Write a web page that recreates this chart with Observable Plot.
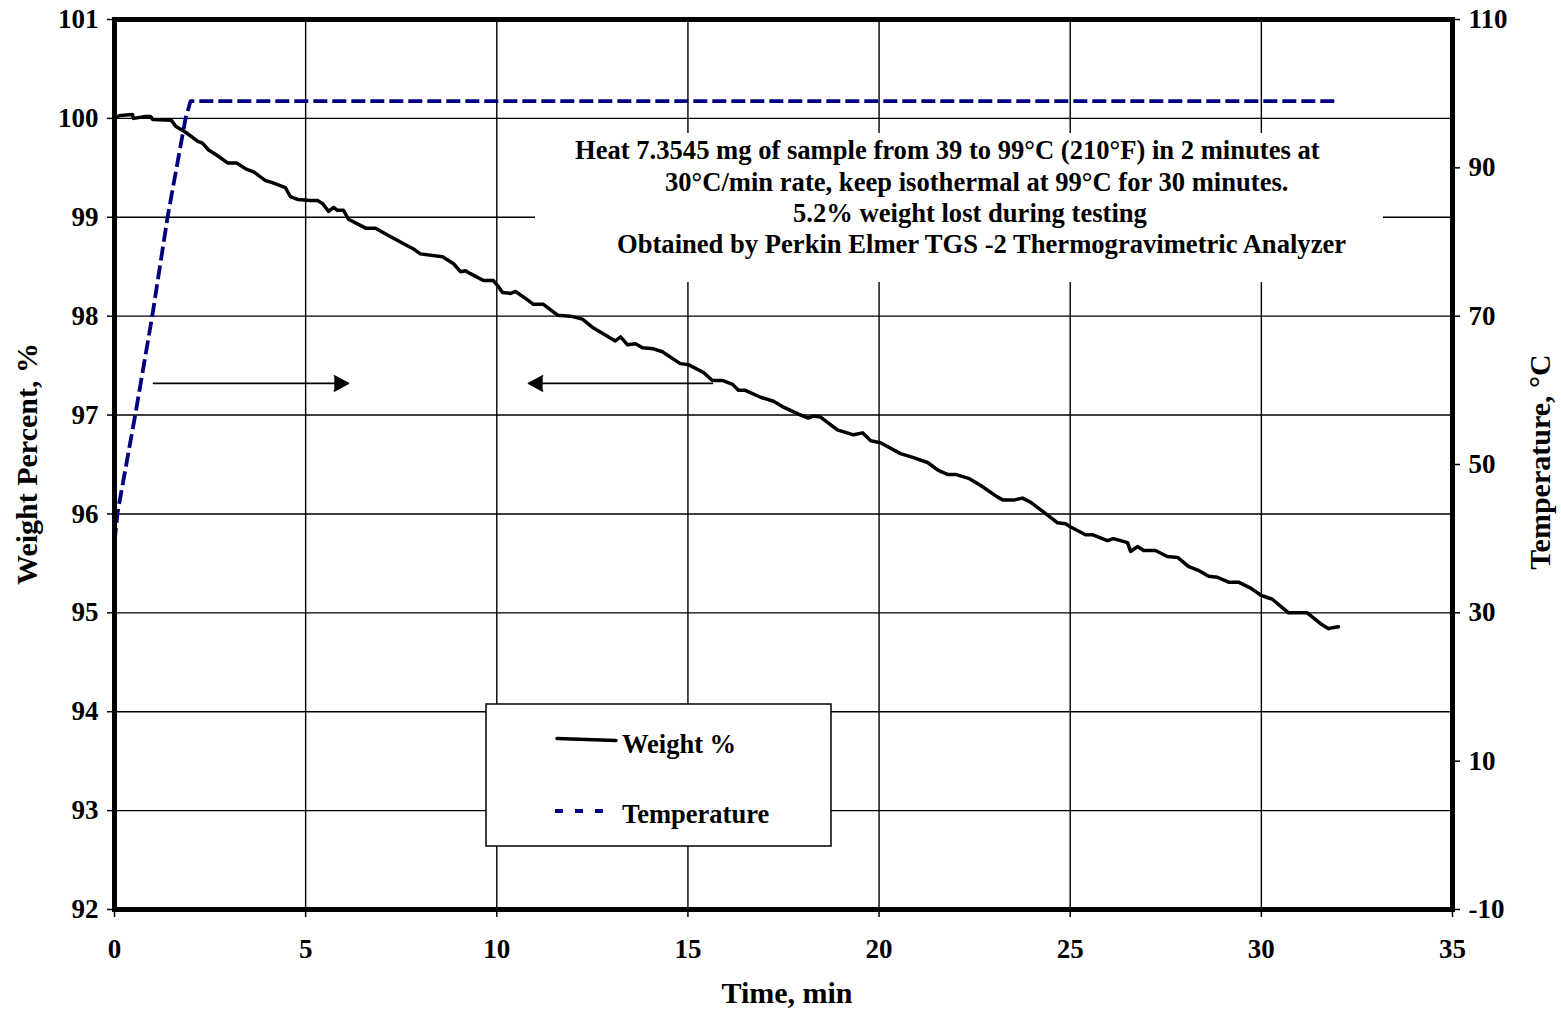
<!DOCTYPE html>
<html>
<head>
<meta charset="utf-8">
<script src="https://cdn.jsdelivr.net/npm/d3@7"></script>
<script src="https://cdn.jsdelivr.net/npm/@observablehq/plot@0.6"></script>
<style>
  html, body { margin: 0; padding: 0; background: white; }
  #wrap { position: relative; width: 1561px; height: 1009px; }
  #wrap svg { position: absolute; left: 0; top: 0; }
  .t { font-family: "Liberation Serif", "Times New Roman", serif; font-weight: bold; fill: black; }
</style>
</head>
<body>
<div id="wrap"></div>
<script>
// ---- Data ----
const weightTime = [0, 0.03, 0.16, 0.47, 0.5, 0.81, 0.94, 1.0, 1.49, 1.6, 1.86, 2.17, 2.3, 2.46, 2.67, 2.96, 3.19, 3.43, 3.64, 3.95, 4.13, 4.47, 4.6, 4.79, 5.13, 5.31, 5.44, 5.6, 5.73, 5.83, 5.99, 6.12, 6.57, 6.83, 7.14, 7.48, 7.82, 8.0, 8.58, 8.87, 9.05, 9.18, 9.31, 9.65, 9.91, 10.02, 10.15, 10.36, 10.49, 10.75, 10.96, 11.22, 11.59, 11.93, 12.24, 12.53, 13.1, 13.24, 13.42, 13.63, 13.81, 14.1, 14.33, 14.8, 15.01, 15.41, 15.64, 15.9, 16.17, 16.32, 16.5, 16.9, 17.24, 17.5, 17.89, 18.15, 18.28, 18.47, 18.91, 19.33, 19.57, 19.78, 20.04, 20.56, 20.9, 21.27, 21.55, 21.79, 22.0, 22.34, 22.65, 23.1, 23.25, 23.52, 23.75, 23.96, 24.3, 24.67, 24.88, 25.0, 25.4, 25.58, 25.97, 26.13, 26.5, 26.58, 26.76, 26.92, 27.23, 27.54, 27.81, 28.09, 28.35, 28.62, 28.85, 29.14, 29.4, 29.72, 29.98, 30.19, 30.28, 30.71, 31.2, 31.55, 31.76, 31.86, 32.02];
const weightPct = [100.0, 100.01, 100.03, 100.04, 100.0, 100.02, 100.02, 99.99, 99.98, 99.92, 99.86, 99.77, 99.75, 99.68, 99.63, 99.55, 99.55, 99.49, 99.46, 99.37, 99.35, 99.30, 99.21, 99.18, 99.17, 99.17, 99.14, 99.06, 99.10, 99.07, 99.07, 98.98, 98.89, 98.89, 98.82, 98.75, 98.68, 98.63, 98.60, 98.53, 98.45, 98.46, 98.43, 98.36, 98.36, 98.31, 98.24, 98.23, 98.25, 98.18, 98.12, 98.12, 98.01, 98.00, 97.97, 97.88, 97.75, 97.79, 97.71, 97.72, 97.68, 97.67, 97.64, 97.52, 97.51, 97.43, 97.35, 97.35, 97.31, 97.25, 97.25, 97.18, 97.14, 97.08, 97.01, 96.97, 96.99, 96.98, 96.85, 96.80, 96.82, 96.74, 96.72, 96.61, 96.57, 96.52, 96.44, 96.40, 96.40, 96.36, 96.29, 96.17, 96.14, 96.14, 96.16, 96.12, 96.02, 95.91, 95.90, 95.87, 95.79, 95.79, 95.73, 95.75, 95.71, 95.62, 95.67, 95.63, 95.63, 95.57, 95.56, 95.47, 95.43, 95.37, 95.36, 95.31, 95.31, 95.25, 95.18, 95.15, 95.14, 95.00, 95.00, 94.89, 94.84, 94.85, 94.86];

const tempTime = [0, 0.08, 0.55, 0.99, 1.39, 1.86, 1.99, 32.0];
const tempC = [39.6, 43.5, 56.9, 70.1, 83.4, 96.7, 99, 99];

const timeTicks = [0, 5, 10, 15, 20, 25, 30, 35];
const timeGrid = [5, 10, 15, 20, 25, 30];
const weightTicks = [92, 93, 94, 95, 96, 97, 98, 99, 100, 101];
const tempTicks = [-10, 10, 30, 50, 70, 90, 110];

const arrowX1 = [1.02, 15.64];
const arrowX2 = [6.12, 10.83];
const arrowY = [97.32, 97.32];

const noteLines = [
  "Heat 7.3545 mg of sample from 39 to 99°C (210°F) in 2 minutes at",
  "30°C/min rate, keep isothermal at 99°C for 30 minutes.",
  "5.2% weight lost during testing",
  "Obtained by Perkin Elmer TGS -2 Thermogravimetric Analyzer"
];
const seriesNames = ["Weight %", "Temperature"];
const xTitle = "Time, min";
const yTitle = "Weight  Percent, %";
const y2Title = "Temperature,  °C";

// ---- Build tables ----
const toW = t => 92 + (t + 10) * 9 / 120;       // temperature -> weight-scale
const toT = w => Math.round((w - 92) * 120 / 9 - 10);
const weightData = weightTime.map((t, i) => ({t, w: weightPct[i]}));
const tempData = tempTime.map((t, i) => ({t, T: tempC[i]}));
const arrows = arrowX1.map((x1, i) => ({x1, x2: arrowX2[i], y: arrowY[i]}));

const FONT = "Liberation Serif, Times New Roman, serif";

const plot = Plot.plot({
  width: 1561,
  height: 1009,
  marginLeft: 114,
  marginRight: 109,
  marginTop: 19,
  marginBottom: 100,
  style: {fontFamily: FONT, fontWeight: "bold", fontSize: "27px", color: "black", background: "white", overflow: "visible"},
  x: {domain: [0, 35]},
  y: {domain: [92, 101]},
  marks: [
    Plot.gridY(weightTicks, {stroke: "black", strokeOpacity: 1, strokeWidth: 1.4}),
    Plot.gridX(timeGrid, {stroke: "black", strokeOpacity: 1, strokeWidth: 1.4}),
    Plot.axisX(timeTicks, {tickSize: 8, tickPadding: 21, label: null, fontSize: 27, strokeWidth: 1.5, tickFormat: d => String(d)}),
    Plot.axisY(weightTicks, {anchor: "left", tickSize: 7, tickPadding: 9, label: null, fontSize: 27, strokeWidth: 1.5, tickFormat: d => String(d)}),
    Plot.axisY(tempTicks.map(toW), {anchor: "right", tickSize: 7, tickPadding: 9, label: null, fontSize: 27, strokeWidth: 1.5, tickFormat: w => String(toT(w))}),
    Plot.line(tempData, {x: "t", y: d => toW(d.T), stroke: "#000080", strokeWidth: 3.8, strokeDasharray: "14,5", strokeLinecap: "butt"}),
    Plot.line(weightData, {x: "t", y: "w", stroke: "black", strokeWidth: 3.5}),
    Plot.arrow(arrows, {x1: "x1", x2: "x2", y1: "y", y2: "y", stroke: "black", strokeWidth: 1.6, headLength: 15, headAngle: 56}),
    Plot.frame({stroke: "black", strokeWidth: 5})
  ]
});

const wrap = document.getElementById("wrap");
wrap.appendChild(plot);
d3.select(plot).selectAll("g[aria-label=arrow] path").attr("fill", "black").attr("stroke-linejoin", "miter");

// ---- Overlay: annotation box, legend, axis titles ----
const ov = d3.select(wrap).append("svg")
  .attr("width", 1561).attr("height", 1009)
  .style("pointer-events", "none");

// annotation box (white, covers gridlines)
ov.append("rect").attr("x", 535).attr("y", 133).attr("width", 848).attr("height", 149).attr("fill", "white");
const noteX = [575, 665, 793, 617];
const noteY = [159, 191, 222, 253];
noteLines.forEach((s, i) => {
  ov.append("text").attr("class", "t").attr("x", noteX[i]).attr("y", noteY[i])
    .attr("font-size", 26.6).text(s);
});

// legend
ov.append("rect").attr("x", 486).attr("y", 704).attr("width", 345).attr("height", 142)
  .attr("fill", "white").attr("stroke", "black").attr("stroke-width", 1.5);
ov.append("line").attr("x1", 557).attr("y1", 738.5).attr("x2", 616).attr("y2", 740.5)
  .attr("stroke", "black").attr("stroke-width", 3.5).attr("stroke-linecap", "round");
ov.append("line").attr("x1", 555).attr("y1", 811).attr("x2", 607).attr("y2", 811)
  .attr("stroke", "#000080").attr("stroke-width", 3.8).attr("stroke-dasharray", "8,12");
ov.append("text").attr("class", "t").attr("x", 622).attr("y", 753).attr("font-size", 26.5).text(seriesNames[0]);
ov.append("text").attr("class", "t").attr("x", 622).attr("y", 823).attr("font-size", 26.5).text(seriesNames[1]);

// axis titles
ov.append("text").attr("class", "t").attr("x", 787).attr("y", 1003).attr("font-size", 30)
  .attr("text-anchor", "middle").text(xTitle);
ov.append("text").attr("class", "t").attr("transform", "translate(37,464) rotate(-90)")
  .attr("font-size", 30).attr("text-anchor", "middle").text(yTitle);
ov.append("text").attr("class", "t").attr("transform", "translate(1550,462) rotate(-90)")
  .attr("font-size", 30).attr("text-anchor", "middle").text(y2Title);
</script>
</body>
</html>
